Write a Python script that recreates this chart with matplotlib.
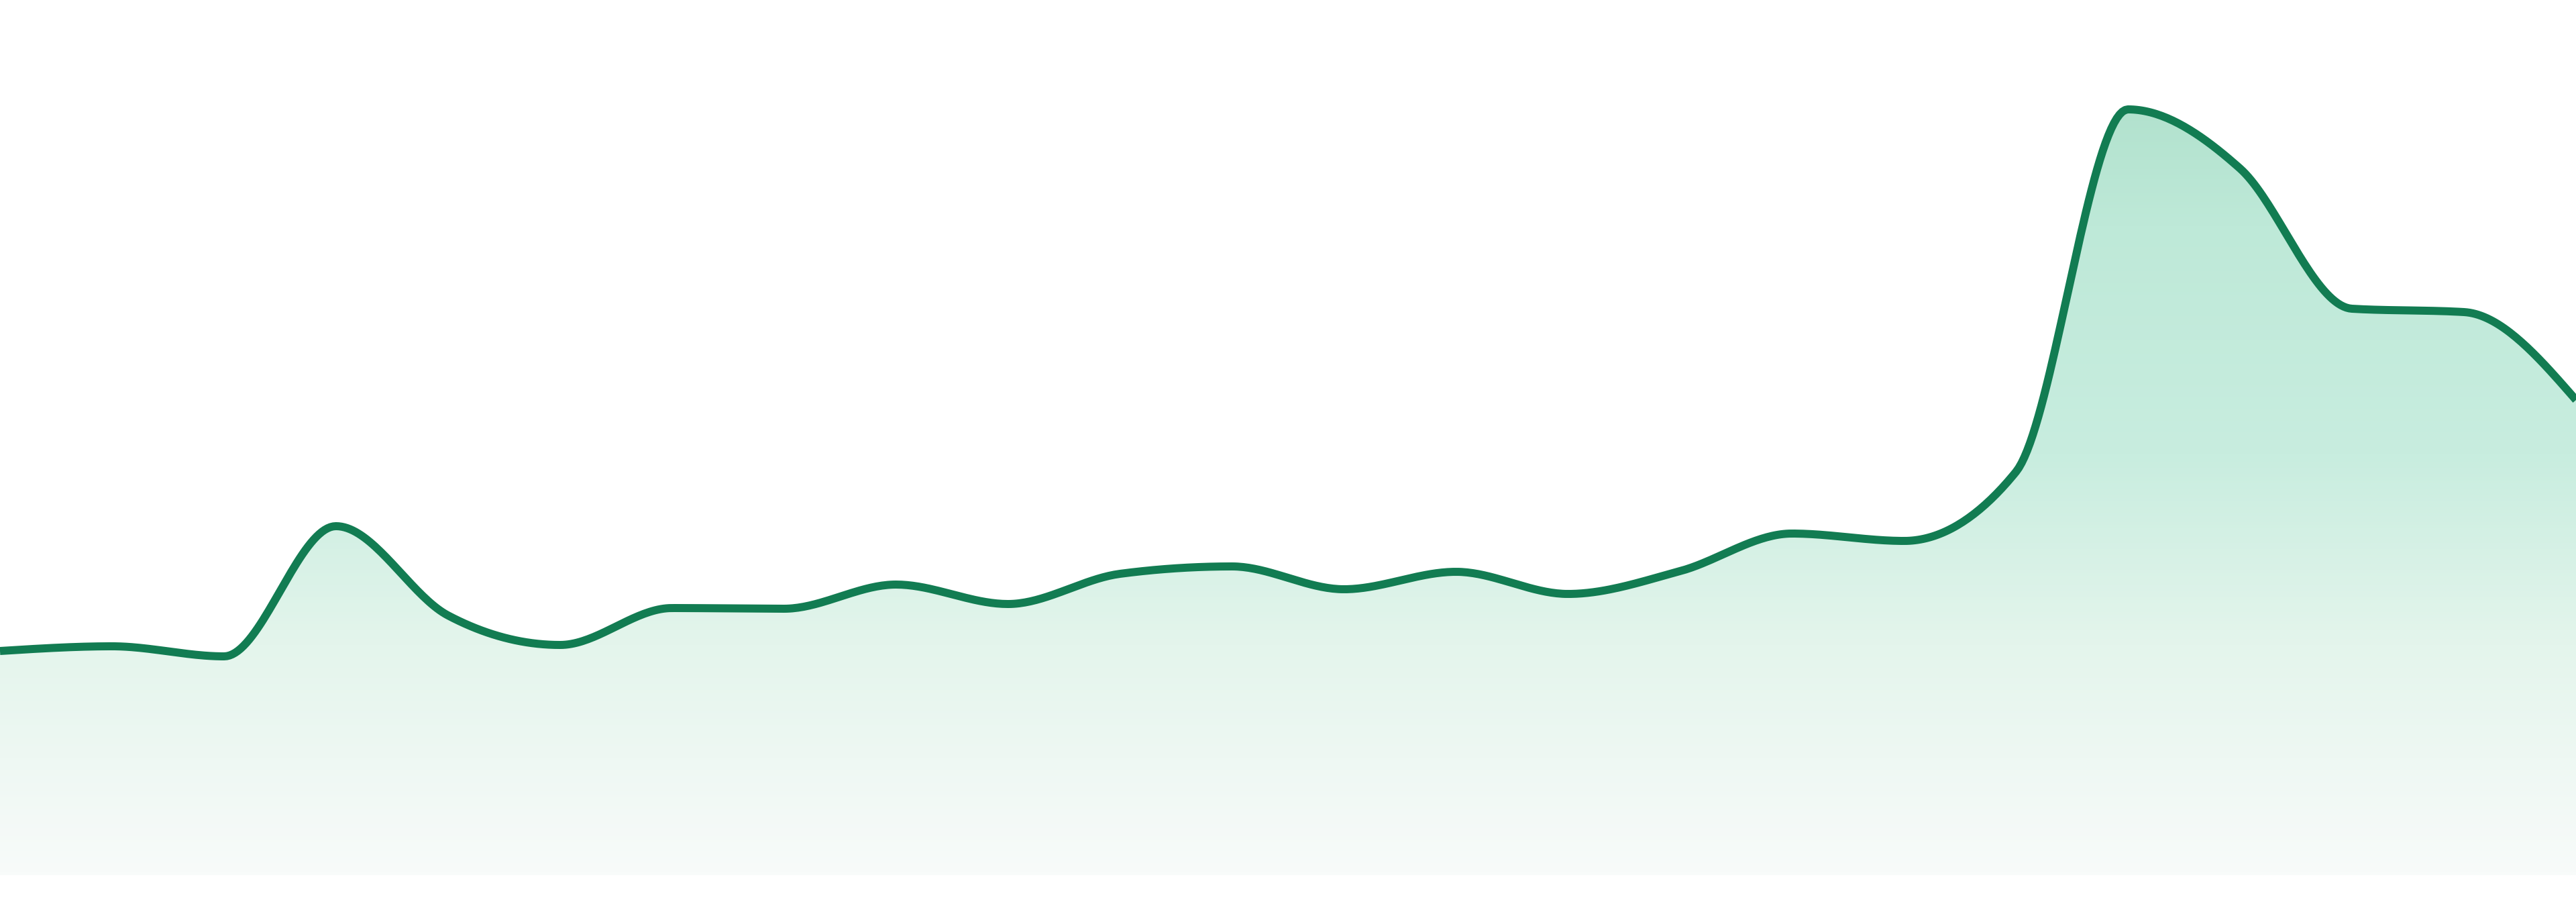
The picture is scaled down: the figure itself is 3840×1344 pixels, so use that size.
import numpy as np
import matplotlib
matplotlib.use("Agg")
import matplotlib.pyplot as plt
from matplotlib.colors import LinearSegmentedColormap

# Data: 24 daily readings (arbitrary units)
days = np.arange(1, 25)
values = [334, 341, 326, 520, 387, 343, 398, 397, 433, 404, 449, 460,
          426, 452, 419, 453, 509, 498, 601, 1141, 1053, 844, 839, 708]

line_color = "#127c52"
grad_stops = [(0.0, "#b2e2ce"), (0.15, "#bee9d8"), (0.45, "#c8eddf"),
              (0.7, "#e4f5ec"), (1.0, "#f8fbfa")]


def monotone_x(x, y, n=40):
    # monotone cubic (Steffen), same idea as d3.curveMonotoneX
    x = np.asarray(x, float)
    y = np.asarray(y, float)
    h = np.diff(x)
    s = np.diff(y) / h
    t = np.zeros_like(y)
    for i in range(1, len(y) - 1):
        p = (s[i - 1] * h[i] + s[i] * h[i - 1]) / (h[i - 1] + h[i])
        t[i] = (np.sign(s[i - 1]) + np.sign(s[i])) * min(abs(s[i - 1]), abs(s[i]), 0.5 * abs(p))
    t[0] = (3 * s[0] - t[1]) / 2
    t[-1] = (3 * s[-1] - t[-2]) / 2
    xs, ys = [], []
    for i in range(len(h)):
        u = np.linspace(0, 1, n, endpoint=(i == len(h) - 1))
        h00 = 2 * u**3 - 3 * u**2 + 1
        h10 = u**3 - 2 * u**2 + u
        h01 = -2 * u**3 + 3 * u**2
        h11 = u**3 - u**2
        xs.append(x[i] + u * h[i])
        ys.append(h00 * y[i] + h10 * h[i] * t[i] + h01 * y[i + 1] + h11 * h[i] * t[i + 1])
    return np.concatenate(xs), np.concatenate(ys)


xs, ys = monotone_x(days, values)

fig = plt.figure(figsize=(19.2, 6.72), dpi=200)
ax = fig.add_axes([0, 40 / 1344, 1, 1304 / 1344])
ax.axis("off")

# gradient fill under the curve
fill = ax.fill_between(xs, ys, 0, color="none")
cmap = LinearSegmentedColormap.from_list("mint", grad_stops)
grad = np.linspace(0, 1, 256).reshape(-1, 1)
img = ax.imshow(grad, cmap=cmap, aspect="auto", origin="upper",
                extent=[days[0], days[-1], 0, max(values)], zorder=1)
img.set_clip_path(fill.get_paths()[0], transform=ax.transData)

ax.plot(xs, ys, color=line_color, lw=4.32, solid_capstyle="butt", zorder=3)

# imshow resets the limits, so set them last
ax.set_xlim(days[0], days[-1])
ax.set_ylim(0, 1304)

fig.savefig("out.png", dpi=200, facecolor="white")
